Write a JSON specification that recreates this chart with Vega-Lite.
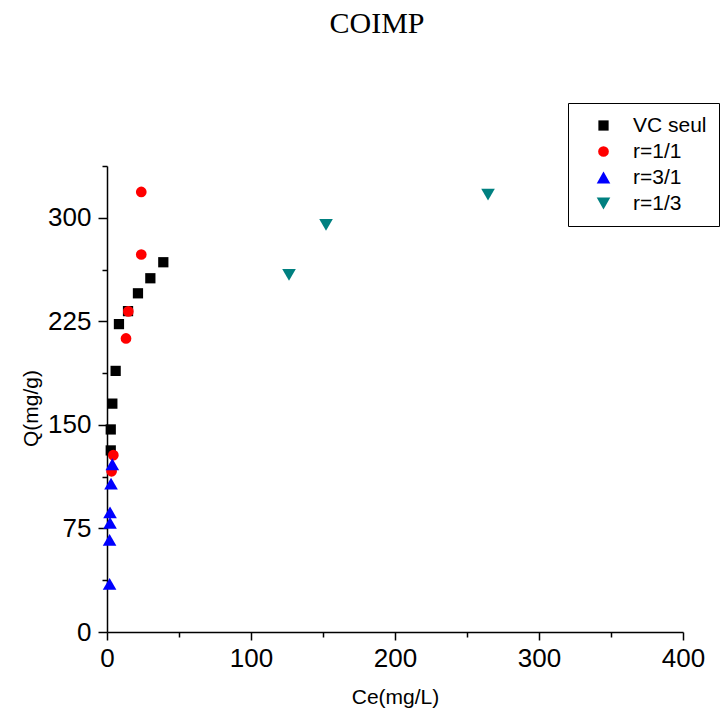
{
  "$schema": "https://vega.github.io/schema/vega-lite/v6.json",
  "width": 576,
  "height": 466,
  "autosize": {"type": "none"},
  "padding": {"left": 107, "top": 166, "right": 38, "bottom": 83},
  "background": "white",
  "title": {
    "text": "COIMP",
    "font": "Liberation Serif",
    "fontSize": 30,
    "fontWeight": "normal",
    "color": "black",
    "anchor": "middle",
    "dx": -18,
    "offset": 64
  },
  "config": {
    "view": {"stroke": null},
    "axis": {
      "grid": false,
      "domainColor": "black",
      "domainWidth": 1.5,
      "tickColor": "black",
      "tickWidth": 1.5,
      "labelColor": "black",
      "titleColor": "black",
      "labelFont": "Liberation Sans",
      "titleFont": "Liberation Sans",
      "labelFontSize": 26,
      "titleFontSize": 21,
      "titleFontWeight": "normal"
    },
    "legend": {
      "orient": "none",
      "legendX": 461,
      "legendY": -63,
      "strokeColor": "black",
      "padding": 12,
      "symbolOffset": 13,
      "labelOffset": 19,
      "labelFont": "Liberation Sans",
      "labelFontSize": 21,
      "labelColor": "black",
      "rowPadding": 4,
      "symbolOpacity": 1
    }
  },
  "data": {
    "values": [
      {"series": "VC seul", "ce": 2.6, "q": 131.5},
      {"series": "VC seul", "ce": 2.6, "q": 146.7},
      {"series": "VC seul", "ce": 3.7, "q": 165.4},
      {"series": "VC seul", "ce": 6.0, "q": 189.1},
      {"series": "VC seul", "ce": 8.3, "q": 223.0},
      {"series": "VC seul", "ce": 14.6, "q": 232.4},
      {"series": "VC seul", "ce": 21.5, "q": 245.3},
      {"series": "VC seul", "ce": 30.1, "q": 256.2},
      {"series": "VC seul", "ce": 39.1, "q": 267.8},
      {"series": "r=1/1", "ce": 3.2, "q": 116.4},
      {"series": "r=1/1", "ce": 4.4, "q": 128.1},
      {"series": "r=1/1", "ce": 13.2, "q": 212.6},
      {"series": "r=1/1", "ce": 14.8, "q": 232.2},
      {"series": "r=1/1", "ce": 23.8, "q": 273.4},
      {"series": "r=1/1", "ce": 23.8, "q": 318.7},
      {"series": "r=3/1", "ce": 1.8, "q": 34.9},
      {"series": "r=3/1", "ce": 1.8, "q": 66.8},
      {"series": "r=3/1", "ce": 2.1, "q": 79.0},
      {"series": "r=3/1", "ce": 2.1, "q": 86.7},
      {"series": "r=3/1", "ce": 2.8, "q": 107.5},
      {"series": "r=3/1", "ce": 3.7, "q": 121.5},
      {"series": "r=1/3", "ce": 126.4, "q": 258.6},
      {"series": "r=1/3", "ce": 152.1, "q": 294.9},
      {"series": "r=1/3", "ce": 264.6, "q": 316.7}
    ]
  },
  "mark": {"type": "point", "filled": true, "opacity": 1},
  "encoding": {
    "x": {
      "field": "ce",
      "type": "quantitative",
      "title": "Ce(mg/L)",
      "scale": {"domain": [0, 400], "nice": false, "zero": false},
      "axis": {
        "values": [0, 50, 100, 150, 200, 250, 300, 350, 400],
        "labelExpr": "datum.value % 100 === 0 ? datum.label : ''",
        "tickSize": {"condition": {"test": "datum.value % 100 === 0", "value": 8}, "value": 5},
        "labelPadding": 5,
        "titleY": 54,
        "titleBaseline": "top",
        "labelFlush": false,
        "labelOverlap": false
      }
    },
    "y": {
      "field": "q",
      "type": "quantitative",
      "title": "Q(mg/g)",
      "scale": {"domain": [0, 337.5], "nice": false, "zero": false},
      "axis": {
        "values": [0, 37.5, 75, 112.5, 150, 187.5, 225, 262.5, 300, 337.5],
        "labelExpr": "datum.value % 75 === 0 ? datum.label : ''",
        "tickSize": {"condition": {"test": "datum.value % 75 === 0", "value": 9}, "value": 5},
        "labelPadding": 7,
        "titleX": -66,
        "titleY": 242,
        "labelFlush": false,
        "labelOverlap": false
      }
    },
    "size": {
      "field": "series",
      "type": "ordinal",
      "sort": ["VC seul", "r=1/1", "r=3/1", "r=1/3"],
      "scale": {
        "type": "ordinal",
        "domain": ["VC seul", "r=1/1", "r=3/1", "r=1/3"],
        "range": [105, 115, 185, 185]
      },
      "legend": null
    },
    "color": {
      "field": "series",
      "type": "nominal",
      "scale": {
        "domain": ["VC seul", "r=1/1", "r=3/1", "r=1/3"],
        "range": ["#000000", "#FF0000", "#0000FF", "#008080"]
      },
      "legend": {"title": null}
    },
    "shape": {
      "field": "series",
      "type": "nominal",
      "scale": {
        "domain": ["VC seul", "r=1/1", "r=3/1", "r=1/3"],
        "range": ["square", "circle", "triangle-up", "triangle-down"]
      },
      "legend": {"title": null}
    }
  }
}
